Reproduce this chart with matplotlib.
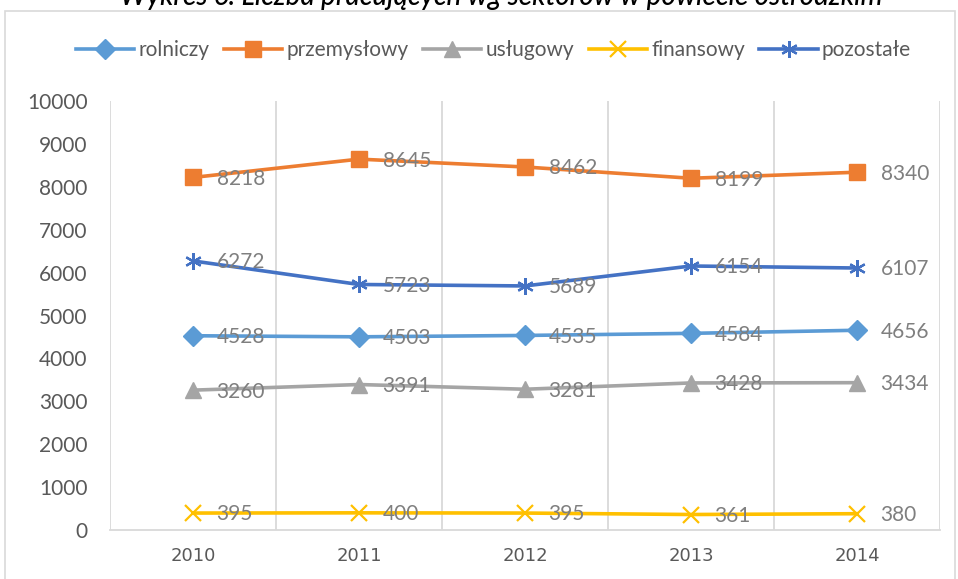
import matplotlib
matplotlib.use("Agg")
import matplotlib.pyplot as plt
from matplotlib.patches import Rectangle

plt.rcParams['font.family'] = ['Lato', 'DejaVu Sans']

years = ["2010", "2011", "2012", "2013", "2014"]
rolniczy = [4528, 4503, 4535, 4584, 4656]
przemyslowy = [8218, 8645, 8462, 8199, 8340]
uslugowy = [3260, 3391, 3281, 3428, 3434]
finansowy = [395, 400, 395, 361, 380]
pozostale = [6272, 5723, 5689, 6154, 6107]

series = [
    ("rolniczy", rolniczy, "#5B9BD5", "D", 10),
    ("przemysłowy", przemyslowy, "#ED7D31", "s", 12),
    ("usługowy", uslugowy, "#A5A5A5", "^", 11),
    ("finansowy", finansowy, "#FFC000", "x", 11),
    ("pozostałe", pozostale, "#4472C4", (6, 2, 0), 12),
]

W, H = 958, 579
fig = plt.figure(figsize=(W / 100, H / 100), dpi=100)
ax = fig.add_axes([110 / W, 1 - 530 / H, (940 - 110) / W, (530 - 101) / H])

x = list(range(len(years)))
for name, vals, col, mk, ms in series:
    ax.plot(x, vals, color=col, lw=2.6, marker=mk, markersize=ms,
            markeredgewidth=1.6 if mk in ("x",) or isinstance(mk, tuple) else 1,
            markeredgecolor=col, markerfacecolor=col, label=name, zorder=3)
    for xi, v in zip(x, vals):
        ax.annotate(str(v), (xi, v), xytext=(17, -1), textcoords="offset points",
                    ha="left", va="center", fontsize=15, color="#7F7F7F", zorder=4)

ax.set_xlim(-0.5, len(years) - 0.5)
ax.set_ylim(0, 10000)
ax.set_yticks(range(0, 10001, 1000))
ax.set_xticks(x)
ax.set_xticklabels(years, fontsize=13, color="#595959", family=["DejaVu Sans"])
ax.tick_params(axis="x", length=0, pad=12)
ax.tick_params(axis="y", length=0, pad=16, labelsize=15, labelcolor="#595959")

# vertical gridlines at category boundaries
for b in [i - 0.5 for i in range(len(years) + 1)]:
    ax.axvline(b, color="#D9D9D9", lw=1.3, zorder=1)
for s in ["top", "right", "left"]:
    ax.spines[s].set_visible(False)
ax.spines["bottom"].set_color("#D9D9D9")
ax.spines["bottom"].set_linewidth(1.3)

leg = fig.legend(loc="center", bbox_to_anchor=(0.515, 1 - 50 / H), ncol=5, frameon=False,
                 fontsize=15, handlelength=2.8, handletextpad=0.2, columnspacing=0.7,
                 labelcolor="#595959")

# outer chart border
fig.patches.append(Rectangle((5 / W, -0.02), 950 / W, 1.02 - 11 / H, transform=fig.transFigure,
                             fill=False, edgecolor="#D9D9D9", lw=1.2))

# title (partially cut off at top)
fig.text(0.523, 1 - 5 / H, "Wykres 6. Liczba pracujących wg sektorów w powiecie ostródzkim",
         ha="center", va="baseline", fontsize=20, fontstyle="italic", fontweight="medium",
         color="#000000")

fig.savefig("out.png", dpi=100)
